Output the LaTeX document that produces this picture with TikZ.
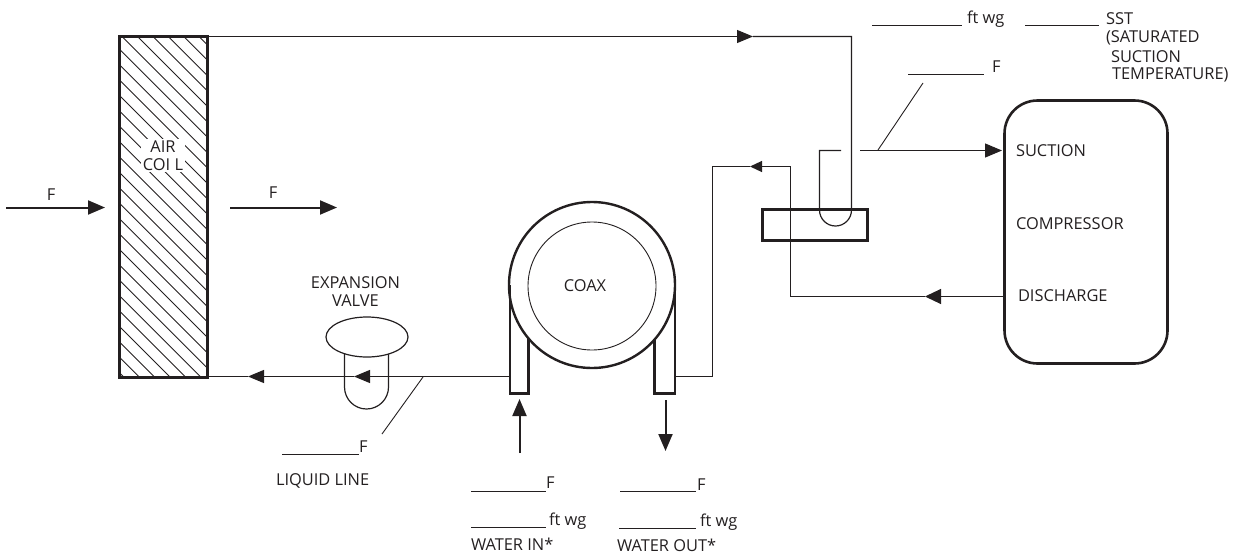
\documentclass[tikz,border=0pt]{standalone}
\usepackage{fontspec}
\setmainfont{Open Sans}
\usetikzlibrary{arrows.meta,shapes.geometric}
\definecolor{ink}{HTML}{231F20}
\tikzset{
  pipe/.style={draw=ink,line width=1.2pt},
  hair/.style={draw=ink,line width=0.9pt},
  heavy/.style={draw=ink,line width=2.4pt},
  airflow/.style={draw=ink,line width=2pt,-{Triangle[length=17pt,width=14pt]}},
  bighead/.style={-{Triangle[length=16pt,width=15pt]}},
  midhead/.style={-{Triangle[length=16pt,width=13pt]}},
  smallhead/.style={-{Triangle[length=12pt,width=11pt]}},
  box/.style={draw=ink,line width=2.6pt,inner sep=0pt,outer sep=0pt,anchor=north west},
  lbl/.style={font=\fontsize{16.4}{18.5}\selectfont,text=ink,inner sep=0pt,outer sep=0pt},
}
\begin{document}
\begin{tikzpicture}[x=1pt,y=-1pt]
\useasboundingbox (0,0) rectangle (1236,557);
% air coil hatch
\begin{scope}
\clip (119,36) rectangle (207,377);
\foreach \k in {0,...,28}{
  \pgfmathsetmacro{\d}{178-15.4*\k}
  \draw[hair] (\d,0) -- ++(500,500);
}
\end{scope}
\node[box,minimum width=88pt,minimum height=341pt] (coil) at (119.5,36.5) {};
\node[lbl,fill=white,inner sep=1.5pt,align=center] (coillabel) at (163,155.5) {AIR\\COI L};
% small box, compressor
\node[box,minimum width=105pt,minimum height=31pt] (hx) at (762.5,209.5) {};
\node[box,rounded corners=33pt,minimum width=163pt,minimum height=263pt] (comp) at (1004.5,100.5) {};
% route points
\coordinate (t1) at (753,36.5);
\coordinate (t2) at (851.5,36.5);
\coordinate (u1) at (851.5,210);
\coordinate (u2) at (819.5,150.5);
\coordinate (u3) at (841,150.5);
\coordinate (s1) at (860,150.5);
\coordinate (s2) at (1002,150.5);
\coordinate (d1) at (1004.5,296.5);
\coordinate (d2) at (925,296.5);
\coordinate (d3) at (790.5,296.5);
\coordinate (d4) at (790.5,166.5);
\coordinate (d5) at (750,166.5);
\coordinate (d6) at (712.5,166.5);
\coordinate (d7) at (712.5,376.5);
\coordinate (d8) at (675,376.5);
\coordinate (l1) at (509,376.5);
\coordinate (l2) at (354,376.5);
\coordinate (l3) at (248,376.5);
\coordinate (l4) at (207,376.5);
% suction line
\draw[pipe,midhead] (coil.north east) -- (t1);
\draw[pipe] (t1) -- (t2) -- (u1) arc[start angle=0,end angle=180,radius=16] -- (u2) -- (u3);
\draw[pipe,-{Triangle[length=17pt,width=14pt]}] (s1) -- (s2);
% discharge
\draw[pipe,bighead] (d1) -- (d2);
\draw[pipe] (d2) -- (d3) -- (d4);
\draw[pipe,smallhead] (d4) -- (d5);
\draw[pipe] (d5) -- (d6) -- (d7) -- (d8);
% liquid line
\draw[pipe,midhead] (l1) -- (l2);
\draw[pipe,midhead] (l2) -- (l3);
\draw[pipe] (l3) -- (l4);
% coax
\draw[heavy] (510,285) -- (510,393.5) -- (528.5,393.5) -- (528.5,338);
\draw[heavy] (654.5,340) -- (654.5,393.5) -- (675,393.5) -- (675,285);
\node[circle,draw=ink,line width=2.4pt,minimum size=166pt,inner sep=0pt,outer sep=0pt] (coaxo) at (592,285) {};
\node[circle,draw=ink,line width=0.9pt,minimum size=128pt,inner sep=0pt,outer sep=0pt] (coaxi) at (592,286) {};
% valve
\draw[pipe] (344.5,345) -- (344.5,387) arc[start angle=180,end angle=0,radius=22] -- (388.5,345);
\node[ellipse,draw=ink,line width=1.2pt,fill=white,minimum width=82pt,minimum height=40pt,inner sep=0pt,outer sep=0pt] (valve) at (367,337) {};
% water arrows
\coordinate (wi1) at (519.5,453); \coordinate (wi2) at (519.5,399);
\coordinate (wo1) at (665.5,400); \coordinate (wo2) at (665.5,451);
\draw[airflow] (wi1) -- (wi2);
\draw[airflow] (wo1) -- (wo2);
% air arrows
\coordinate (a1) at (6,207.5); \coordinate (a2) at (105,207.5);
\coordinate (a3) at (230,207.5); \coordinate (a4) at (337,207.5);
\draw[airflow] (a1) -- (a2);
\draw[airflow] (a3) -- (a4);
% leaders
\coordinate (ll1) at (423,377); \coordinate (ll2) at (382,434);
\coordinate (sl1) at (878,150); \coordinate (sl2) at (923,83);
\draw[hair] (ll1) -- (ll2);
\draw[hair] (sl1) -- (sl2);
% blanks
\draw[hair] (282,454.5) -- (359,454.5);
\draw[hair] (908,74.5) -- (984,74.5);
\draw[hair] (471,491.5) -- (546,491.5);
\draw[hair] (620,491.5) -- (696,491.5);
\draw[hair] (471,527.5) -- (546,527.5);
\draw[hair] (619,528.5) -- (696,528.5);
\draw[hair] (872,25.5) -- (962,25.5);
\draw[hair] (1025,25.5) -- (1099,25.5);
% labels
\node[lbl] (n1) at (51,195) {F};
\node[lbl] (n2) at (273,193) {F};
\node[lbl] (n3) at (585,286) {COAX};
\node[lbl,align=center] (n4) at (355.5,291.5) {EXPANSION\\VALVE};
\node[lbl,anchor=west] (n5) at (359,447) {F};
\node[lbl,anchor=west] (n6) at (276,481) {LIQUID LINE};
\node[lbl,anchor=west] (n7) at (546,483) {F};
\node[lbl,anchor=west] (n8) at (697,485) {F};
\node[lbl,anchor=west] (n9) at (549,521) {ft wg};
\node[lbl,anchor=west] (n10) at (700,522) {ft wg};
\node[lbl,anchor=west] (n11) at (471,544) {WATER IN*};
\node[lbl,anchor=west] (n12) at (617,545) {WATER OUT*};
\node[lbl,anchor=west] (n13) at (1016,151) {SUCTION};
\node[lbl,anchor=west] (n14) at (1016,224) {COMPRESSOR};
\node[lbl,anchor=west] (n15) at (1018,296) {DISCHARGE};
\node[lbl,anchor=west] (n16) at (992,67) {F};
\node[lbl,anchor=west] (n17) at (967,19) {ft wg};
\node[lbl,anchor=west] (n18) at (1106,19) {SST};
\node[lbl,anchor=west] (n19) at (1106,38) {(SATURATED};
\node[lbl,anchor=west] (n20) at (1111,56.5) {SUCTION};
\node[lbl,anchor=west] (n21) at (1112,75) {TEMPERATURE)};
\end{tikzpicture}
\end{document}
